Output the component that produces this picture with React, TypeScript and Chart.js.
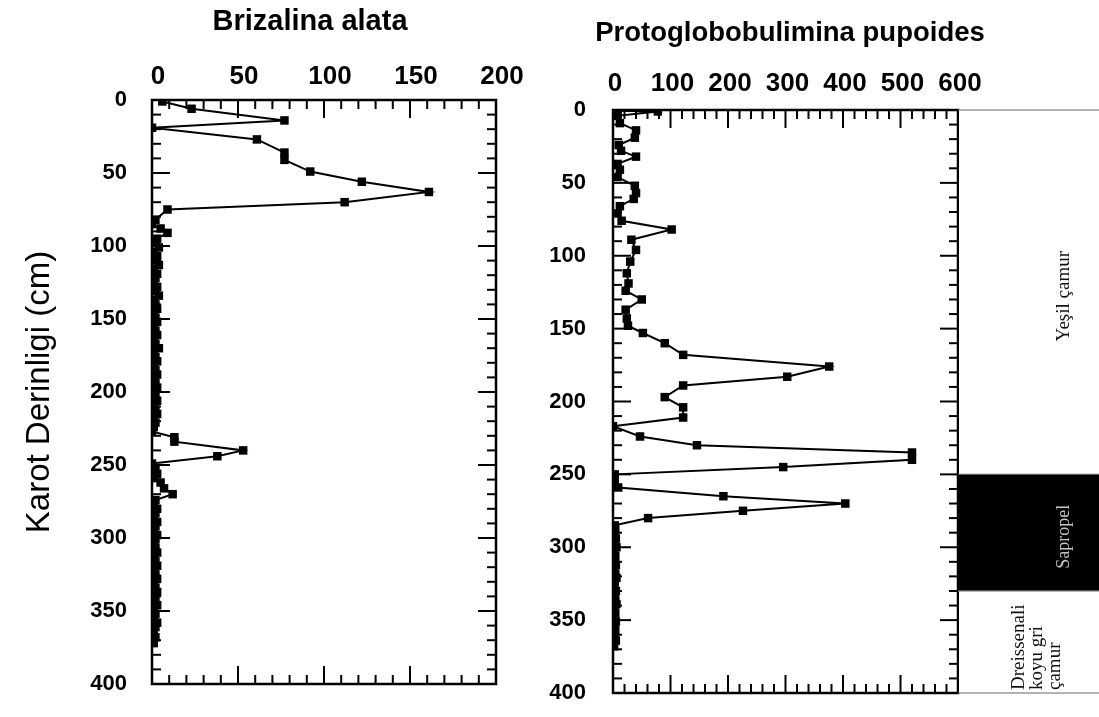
import React, { useEffect, useRef } from "react";
import { Chart, registerables } from "chart.js";

Chart.register(...registerables);

const SANS = "Arial, 'Liberation Sans', Helvetica, sans-serif";
const SERIF = "'Times New Roman', 'Liberation Serif', serif";

// ---- Brizalina alata (count vs depth) ----
const brizDepth = [
  1, 6, 14, 19, 27, 36, 41, 49, 56, 63,
  70, 75, 82, 85, 88, 91, 95, 98, 101, 104,
  107, 110, 113, 116, 119, 122, 125, 128, 131, 134,
  137, 140, 143, 146, 149, 152, 155, 158, 161, 164,
  167, 170, 173, 176, 179, 182, 185, 188, 191, 194,
  197, 200, 203, 206, 209, 212, 215, 218, 221, 224,
  227, 231, 234, 240, 244, 249, 253, 256, 259, 262,
  266, 270, 274, 277, 280, 283, 286, 289, 292, 295,
  298, 301, 304, 307, 310, 313, 316, 319, 322, 325,
  328, 331, 334, 337, 340, 343, 346, 349, 352, 355,
  358, 361, 364, 368, 372,
];
const brizCount = [
  6, 23, 77, 0, 61, 77, 77, 92, 122, 161,
  112, 9, 2, 0, 5, 9, 3, 2, 4, 1,
  3, 2, 4, 1, 3, 2, 1, 3, 2, 4,
  1, 2, 3, 1, 2, 3, 1, 2, 3, 1,
  2, 4, 1, 2, 3, 1, 2, 3, 1, 2,
  3, 1, 2, 3, 1, 2, 3, 1, 2, 1,
  0, 13, 13, 53, 38, 0, 2, 3, 1, 5,
  7, 12, 2, 1, 3, 2, 1, 3, 2, 1,
  3, 2, 1, 2, 3, 1, 2, 3, 1, 2,
  3, 1, 2, 3, 1, 2, 3, 1, 2, 1,
  3, 2, 1, 2, 1,
];

// ---- Protoglobobulimina pupoides (count vs depth) ----
const protoDepth = [
  0.5, 1, 4, 9, 14, 19, 24, 28, 32, 37, 41,
  46, 52, 57, 61, 66, 71, 76, 82, 89, 96,
  104, 112, 119, 124, 130, 137, 143, 148, 153, 160,
  168, 176, 183, 189, 197, 204, 211, 217, 224, 230,
  235, 240, 245, 250, 254, 259, 265, 270, 275, 280,
  285, 288, 291, 294, 297, 300, 303, 306, 309, 312,
  315, 318, 321, 324, 327, 330, 333, 336, 339, 342,
  345, 348, 351, 354, 357, 360, 364, 368,
];
const protoCount = [
  8, 78, 8, 12, 40, 38, 10, 14, 40, 8, 12,
  8, 38, 40, 36, 12, 8, 15, 102, 32, 40,
  30, 24, 27, 22, 50, 22, 24, 26, 52, 90,
  122, 376, 303, 122, 90, 122, 122, 0, 47, 146,
  520, 520, 296, 3, 3, 9, 192, 404, 226, 61,
  3, 4, 2, 5, 3, 6, 2, 4, 3, 5,
  2, 4, 6, 3, 2, 5, 3, 4, 6, 2,
  4, 3, 5, 2, 4, 3, 5, 2,
];

// ---- Axis ranges / ticks ----
const depthMin = 0;
const depthMax = 400;
const depthStep = 50;
const depthMinor = 10;
const brizMax = 200;
const brizStep = 50;
const brizMinor = 10;
const protoMax = 600;
const protoStep = 100;
const protoMinor = 20;

// ---- Lithology column ----
const lithoLines = [["Yeşil çamur"], ["Sapropel"], ["Dreissenali", "koyu gri", "çamur"]];
const lithoTop = [0, 250, 330];
const lithoBottom = [250, 330, 400];
const lithoFill = ["#ffffff", "#000000", "#ffffff"];
const lithoInk = ["#111111", "#c4c4c4", "#111111"];

const toPoints = (depth: number[], count: number[]) =>
  depth.map((d, i) => ({ x: count[i], y: d }));

const framePlugin = {
  id: "frame",
  beforeDatasetsDraw(chart: any, _args: any, opts: any) {
    const { ctx, chartArea, scales } = chart;
    const { left, right, top, bottom } = chartArea;
    const x = scales.x;
    const y = scales.y;
    ctx.save();
    ctx.strokeStyle = "#000";
    ctx.lineWidth = 2;
    const seg = (x1: number, y1: number, x2: number, y2: number) => {
      ctx.beginPath();
      ctx.moveTo(x1, y1);
      ctx.lineTo(x2, y2);
      ctx.stroke();
    };
    const isMajor = (v: number, major: number) => Math.abs(v / major - Math.round(v / major)) < 1e-6;
    for (let v = x.min; v <= x.max + 1e-9; v += opts.xMinor) {
      const px = x.getPixelForValue(v);
      const len = isMajor(v, opts.xMajor) ? opts.majorLen : opts.minorLen;
      seg(px, top, px, top + len);
      seg(px, bottom, px, bottom - len);
    }
    for (let v = y.min; v <= y.max + 1e-9; v += opts.yMinor) {
      const py = y.getPixelForValue(v);
      const len = isMajor(v, opts.yMajor) ? opts.majorLen : opts.minorLen;
      seg(left, py, left + len, py);
      seg(right, py, right - len, py);
    }
    ctx.lineWidth = 2.5;
    ctx.strokeRect(left, top, right - left, bottom - top);
    ctx.restore();
  },
};

const lithoPlugin = {
  id: "litho",
  afterDraw(chart: any) {
    const { ctx, chartArea, scales } = chart;
    const y = scales.y;
    const x0 = chartArea.right;
    const x1 = chart.width;
    ctx.save();
    for (let i = 0; i < lithoLines.length; i++) {
      const yt = y.getPixelForValue(lithoTop[i]);
      const yb = y.getPixelForValue(lithoBottom[i]);
      ctx.fillStyle = lithoFill[i];
      ctx.fillRect(x0 + 1, yt, x1 - x0, yb - yt);
      ctx.strokeStyle = "#666";
      ctx.lineWidth = 1;
      ctx.beginPath();
      ctx.moveTo(x0, yt);
      ctx.lineTo(x1, yt);
      ctx.moveTo(x0, yb);
      ctx.lineTo(x1, yb);
      ctx.stroke();
      const lines = lithoLines[i];
      ctx.fillStyle = lithoInk[i];
      ctx.font = `${i === 1 ? 18 : 19}px ${SERIF}`;
      ctx.textBaseline = "middle";
      if (lines.length === 1) {
        ctx.save();
        ctx.translate(x0 + 106, (yt + yb) / 2 + 4);
        ctx.rotate(-Math.PI / 2);
        ctx.textAlign = "center";
        ctx.fillText(lines[0], 0, 0);
        ctx.restore();
      } else {
        lines.forEach((t, k) => {
          ctx.save();
          ctx.translate(x0 + 61 + k * 18, yb - 3);
          ctx.rotate(-Math.PI / 2);
          ctx.textAlign = "left";
          ctx.fillText(t, 0, 0);
          ctx.restore();
        });
      }
    }
    ctx.restore();
  },
};

const xTickFont = { family: SANS, size: 26, weight: "bold" as const };
const yTickFont = { family: SANS, size: 22, weight: "bold" as const };

const lineDataset = (pts: { x: number; y: number }[]) => ({
  data: pts,
  showLine: true,
  borderColor: "#000",
  borderWidth: 2,
  pointStyle: "rect" as const,
  pointRadius: 6,
  pointBackgroundColor: "#000",
  pointBorderColor: "#000",
  pointBorderWidth: 0,
});

function makeConfig(opts: {
  title: string;
  titleSize: number;
  titlePadTop: number;
  xMax: number;
  xStep: number;
  xMinor: number;
  xHeight: number;
  xPad: number;
  xLabelOffset: number;
  yWidth: number;
  yPad: number;
  rightWidth: number;
  bottomPad: number;
  yTitle: boolean;
  points: { x: number; y: number }[];
  extraPlugins: any[];
}): any {
  return {
    type: "scatter",
    data: { datasets: [lineDataset(opts.points)] },
    plugins: [framePlugin, ...opts.extraPlugins],
    options: {
      animation: false,
      responsive: true,
      maintainAspectRatio: false,
      layout: { padding: { left: 0, right: 0, top: 0, bottom: opts.bottomPad } },
      plugins: {
        legend: { display: false },
        tooltip: { enabled: false },
        title: {
          display: true,
          text: opts.title,
          color: "#000",
          font: { family: SANS, size: opts.titleSize, weight: "bold" },
          padding: { top: opts.titlePadTop, bottom: 0 },
        },
        frame: { xMinor: opts.xMinor, xMajor: opts.xStep, yMinor: depthMinor, yMajor: depthStep, minorLen: 9, majorLen: 18 },
      },
      scales: {
        x: {
          type: "linear",
          position: "top",
          min: 0,
          max: opts.xMax,
          grid: { display: false, drawTicks: false },
          border: { display: false },
          ticks: { stepSize: opts.xStep, color: "#000", font: xTickFont, padding: opts.xPad, labelOffset: opts.xLabelOffset, maxRotation: 0, autoSkip: false },
          afterFit: (s: any) => {
            s.height = opts.xHeight;
            s.paddingLeft = 0;
            s.paddingRight = 0;
          },
        },
        y: {
          type: "linear",
          reverse: true,
          min: depthMin,
          max: depthMax,
          grid: { display: false, drawTicks: false },
          border: { display: false },
          ticks: { stepSize: depthStep, color: "#000", font: yTickFont, padding: opts.yPad, autoSkip: false },
          title: {
            display: opts.yTitle,
            text: "Karot Derinligi (cm)",
            color: "#000",
            font: { family: SANS, size: 33 },
            padding: { top: 20, bottom: 0 },
          },
          afterFit: (s: any) => {
            s.width = opts.yWidth;
            s.paddingTop = 0;
            s.paddingBottom = 0;
          },
        },
        y2: {
          type: "linear",
          position: "right",
          grid: { display: false, drawTicks: false },
          border: { display: false },
          ticks: { display: false },
          afterFit: (s: any) => {
            s.width = opts.rightWidth;
            s.paddingTop = 0;
            s.paddingBottom = 0;
          },
        },
      },
    },
  };
}

export default function App() {
  const leftRef = useRef<HTMLCanvasElement>(null);
  const rightRef = useRef<HTMLCanvasElement>(null);

  useEffect(() => {
    const left = new Chart(
      leftRef.current!,
      makeConfig({
        title: "Brizalina alata",
        titleSize: 29,
        titlePadTop: 4.6,
        xMax: brizMax,
        xStep: brizStep,
        xMinor: brizMinor,
        xHeight: 60.6,
        xPad: 7.4,
        xLabelOffset: 6,
        yWidth: 152,
        yPad: 25,
        rightWidth: 124,
        bottomPad: 33,
        yTitle: true,
        points: toPoints(brizDepth, brizCount),
        extraPlugins: [],
      })
    );
    const right = new Chart(
      rightRef.current!,
      makeConfig({
        title: "Protoglobobulimina pupoides",
        titleSize: 27.5,
        titlePadTop: 16.5,
        xMax: protoMax,
        xStep: protoStep,
        xMinor: protoMinor,
        xHeight: 60.5,
        xPad: 10.4,
        xLabelOffset: 2,
        yWidth: 132,
        yPad: 27,
        rightWidth: 141,
        bottomPad: 24,
        yTitle: false,
        points: toPoints(protoDepth, protoCount),
        extraPlugins: [lithoPlugin],
      })
    );
    return () => {
      left.destroy();
      right.destroy();
    };
  }, []);

  return (
    <div style={{ position: "absolute", left: 0, top: 0, width: 1099, height: 717, background: "#fff", overflow: "hidden" }}>
      <div style={{ position: "absolute", left: 0, top: 0, width: 620, height: 717 }}>
        <canvas ref={leftRef} />
      </div>
      <div style={{ position: "absolute", left: 481, top: 0, width: 618, height: 717 }}>
        <canvas ref={rightRef} />
      </div>
    </div>
  );
}
